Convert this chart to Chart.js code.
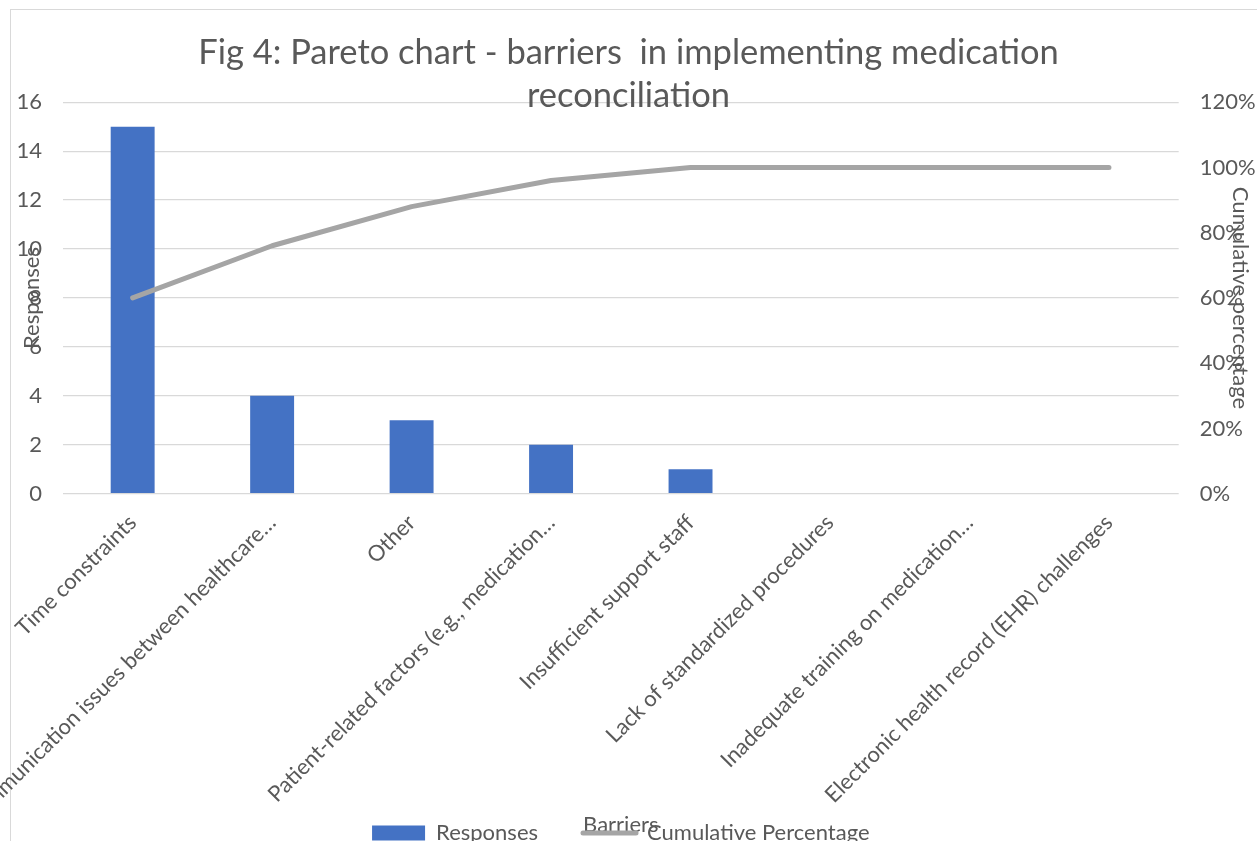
<!DOCTYPE html>
<html><head><meta charset="utf-8">
<script src="https://cdn.jsdelivr.net/npm/chart.js@4.4.0/dist/chart.umd.min.js"></script>
<style>
html,body{margin:0;padding:0;background:#fff;overflow:hidden;width:1257px;height:841px;}
#frame{position:absolute;left:10px;top:9px;width:1300px;height:900px;border:1px solid #d9d9d9;}
#wrap{position:absolute;left:0;top:0;width:1257px;height:854px;}
</style></head><body>
<div id="frame"></div>
<div id="wrap"><canvas id="c" width="1257" height="854"></canvas></div>
<script>
const categories = [
  'Time constraints',
  'Communication issues between healthcare…',
  'Other',
  'Patient-related factors (e.g., medication…',
  'Insufficient support staff',
  'Lack of standardized procedures',
  'Inadequate training on medication…',
  'Electronic health record (EHR) challenges'
];
const responses = [15, 4, 3, 2, 1, 0, 0, 0];
const cumulativePercentage = [0.60, 0.76, 0.88, 0.96, 1.00, 1.00, 1.00, 1.00];
const leftTickLabels = ['0','2','4','6','8','10','12','14','16'];
const rightTickLabels = ['0%','20%','40%','60%','80%','100%','120%'];
const titleLines = ['Fig 4: Pareto chart - barriers  in implementing medication', 'reconciliation'];

const FONT = 'Lato, "Open Sans", sans-serif';
const GREY = '#595959';
const FS = 22;

new Chart(document.getElementById('c'), {
  data: {
    labels: categories,
    datasets: [
      {
        type: 'bar', label: 'Responses', data: responses,
        backgroundColor: '#4472C4', borderWidth: 0, yAxisID: 'y', order: 2,
        barPercentage: 0.315, categoryPercentage: 1
      },
      {
        type: 'line', label: 'Cumulative Percentage', data: cumulativePercentage,
        borderColor: '#A5A5A5', backgroundColor: '#A5A5A5', borderWidth: 5,
        pointRadius: 0, yAxisID: 'y1', order: 1, tension: 0,
        borderCapStyle: 'round', borderJoinStyle: 'round'
      }
    ]
  },
  options: {
    responsive: false, animation: false, devicePixelRatio: 1,
    layout: { padding: 0 },
    scales: {
      x: {
        grid: { display: false }, border: { display: false },
        ticks: { color: GREY, font: { family: FONT, size: FS }, minRotation: 45, maxRotation: 45, autoSkip: false, padding: 8 },
        title: { display: true, text: 'Barriers', color: GREY, font: { family: FONT, size: FS }, padding: { top: -28, bottom: -26 } }
      },
      y: {
        position: 'left', min: 0, max: 16,
        grid: { color: '#d9d9d9', lineWidth: 1.3, drawTicks: false }, border: { display: false },
        ticks: { stepSize: 2, color: GREY, font: { family: FONT, size: FS }, padding: 21,
                 callback: (v, i) => leftTickLabels[i] },
        title: { display: true, text: 'Responses', color: GREY, font: { family: FONT, size: FS }, padding: { top: 19, bottom: -50 } }
      },
      y1: {
        position: 'right', min: 0, max: 1.2,
        grid: { display: false, drawTicks: false }, border: { display: false },
        ticks: { stepSize: 0.2, color: GREY, font: { family: FONT, size: FS }, padding: 21,
                 callback: (v, i) => rightTickLabels[i] },
        title: { display: true, text: 'Cumulative percentage', color: GREY, font: { family: FONT, size: FS }, padding: { top: 4, bottom: -50 } }
      }
    },
    plugins: {
      title: {
        display: true, text: titleLines, color: GREY,
        font: { family: FONT, size: 34.5, weight: 'normal', lineHeight: 1.25 },
        padding: { top: 31, bottom: -15 }
      },
      legend: {
        position: 'bottom', fullSize: false,
        title: { display: true, text: '', font: { size: 10, lineHeight: 1.2 }, padding: { top: 0, bottom: -47 } },
        labels: {
          usePointStyle: true, pointStyleWidth: 53, boxHeight: 15, padding: 45,
          color: GREY, font: { family: FONT, size: FS },
          sort: (a, b) => a.datasetIndex - b.datasetIndex,
          generateLabels(chart) {
            const items = Chart.defaults.plugins.legend.labels.generateLabels(chart);
            items.forEach(it => {
              if (it.datasetIndex === 0) { it.pointStyle = 'rect'; it.lineWidth = 0; it.fillStyle = '#4472C4'; }
              else { it.pointStyle = 'line'; it.lineWidth = 5; it.strokeStyle = '#A5A5A5'; it.lineCap = 'round'; }
            });
            return items;
          }
        }
      },
      tooltip: { enabled: false }
    }
  }
});
</script>
</body></html>
